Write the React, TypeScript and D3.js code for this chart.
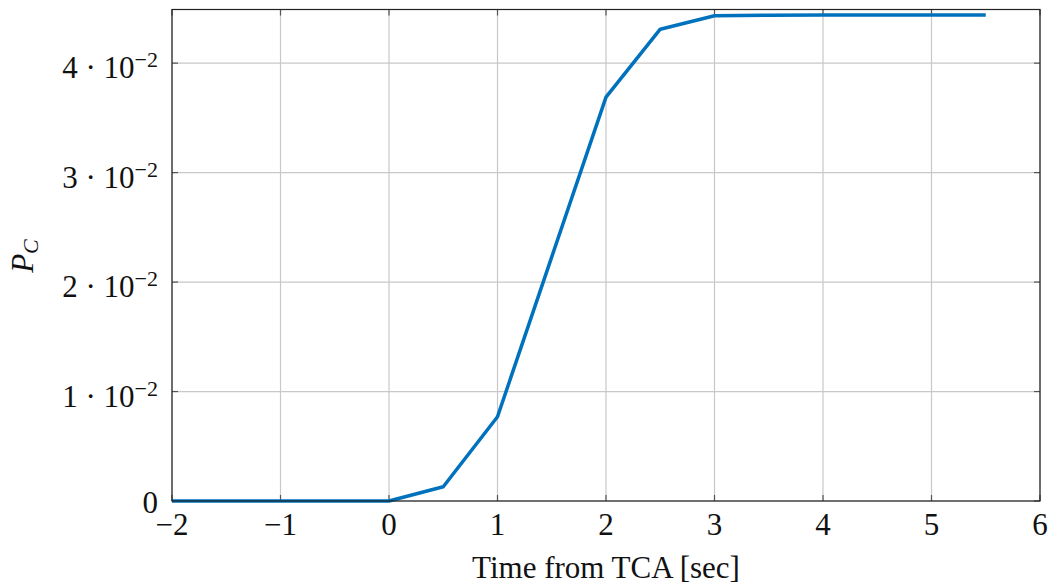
import React, { useEffect, useRef } from 'react';
import * as d3 from 'd3';

const times = [-2, -1.5, -1, -0.5, 0, 0.5, 1, 1.5, 2, 2.5, 3, 3.5, 4, 4.5, 5, 5.5];
const pc = [0, 0, 0, 0, 0, 0.0013, 0.0077, 0.0223, 0.0369, 0.0431, 0.04433, 0.04438, 0.0444, 0.0444, 0.0444, 0.0444];
const xTicks = [-2, -1, 0, 1, 2, 3, 4, 5, 6];
const yTicks = [0, 0.01, 0.02, 0.03, 0.04];
const yTickMantissa = ['0', '1', '2', '3', '4'];

function App() {
    const svgRef = useRef<SVGSVGElement>(null);

    useEffect(() => {
        const svg = d3.select(svgRef.current);
        svg.selectAll('*').remove();

        const left = 172, right = 1040, top = 9.5, bottom = 501;
        const x = d3.scaleLinear().domain([-2, 6]).range([left, right]);
        const y = d3.scaleLinear().domain([0, 0.0449]).range([bottom, top]);
        const font = '"Liberation Serif", "Times New Roman", serif';

        // grid
        svg.append('g').selectAll('line').data(xTicks).join('line')
            .attr('x1', d => x(d)).attr('x2', d => x(d))
            .attr('y1', top).attr('y2', bottom)
            .attr('stroke', '#c8c8c8').attr('stroke-width', 1.2);
        svg.append('g').selectAll('line').data(yTicks).join('line')
            .attr('x1', left).attr('x2', right)
            .attr('y1', d => y(d)).attr('y2', d => y(d))
            .attr('stroke', '#c8c8c8').attr('stroke-width', 1.2);

        // inner ticks
        const tk = svg.append('g').attr('stroke', '#555').attr('stroke-width', 1.2);
        xTicks.forEach(t => {
            tk.append('line').attr('x1', x(t)).attr('x2', x(t)).attr('y1', bottom).attr('y2', bottom - 6);
            tk.append('line').attr('x1', x(t)).attr('x2', x(t)).attr('y1', top).attr('y2', top + 6);
        });
        yTicks.forEach(t => {
            tk.append('line').attr('x1', left).attr('x2', left + 6).attr('y1', y(t)).attr('y2', y(t));
            tk.append('line').attr('x1', right).attr('x2', right - 6).attr('y1', y(t)).attr('y2', y(t));
        });

        // data line
        const line = d3.line<number>()
            .x((_, i) => x(times[i]))
            .y(d => y(d));
        svg.append('path')
            .datum(pc)
            .attr('d', line)
            .attr('fill', 'none')
            .attr('stroke', '#0072BD')
            .attr('stroke-width', 3.5)
            .attr('stroke-linejoin', 'round');

        // frame
        svg.append('rect')
            .attr('x', left).attr('y', top)
            .attr('width', right - left).attr('height', bottom - top)
            .attr('fill', 'none').attr('stroke', '#222').attr('stroke-width', 1.2);

        // x tick labels
        svg.append('g').selectAll('text').data(xTicks).join('text')
            .attr('x', d => x(d)).attr('y', 535)
            .attr('text-anchor', 'middle')
            .attr('font-family', font).attr('font-size', 31).attr('fill', '#111')
            .text(d => (d < 0 ? '\u2212' + Math.abs(d) : String(d)));

        // y tick labels
        const yl = svg.append('g').attr('font-family', font).attr('font-size', 31).attr('fill', '#111');
        yTicks.forEach((t, i) => {
            const txt = yl.append('text')
                .attr('x', 158).attr('y', y(t) + (t === 0 ? 12 : 15))
                .attr('text-anchor', 'end');
            if (t === 0) {
                txt.text('0');
            } else {
                txt.append('tspan').text(yTickMantissa[i] + ' \u00B7 10');
                txt.append('tspan').attr('dy', -11).attr('font-size', 22).text('\u22122');
            }
        });

        // axis labels
        svg.append('text')
            .attr('x', (left + right) / 2).attr('y', 578)
            .attr('text-anchor', 'middle')
            .attr('font-family', font).attr('font-size', 31).attr('fill', '#111')
            .text('Time from TCA [sec]');

        const pl = svg.append('text')
            .attr('transform', 'translate(33,256) rotate(-90)')
            .attr('text-anchor', 'middle')
            .attr('font-family', font).attr('font-style', 'italic').attr('font-size', 31).attr('fill', '#111');
        pl.append('tspan').text('P');
        pl.append('tspan').attr('font-size', 22).attr('dy', 5).text('C');
    }, []);

    return (
        <svg ref={svgRef} width={1050} height={587}
            style={{ position: 'absolute', left: 0, top: 0, background: '#fff' }} />
    );
}

export default App;
